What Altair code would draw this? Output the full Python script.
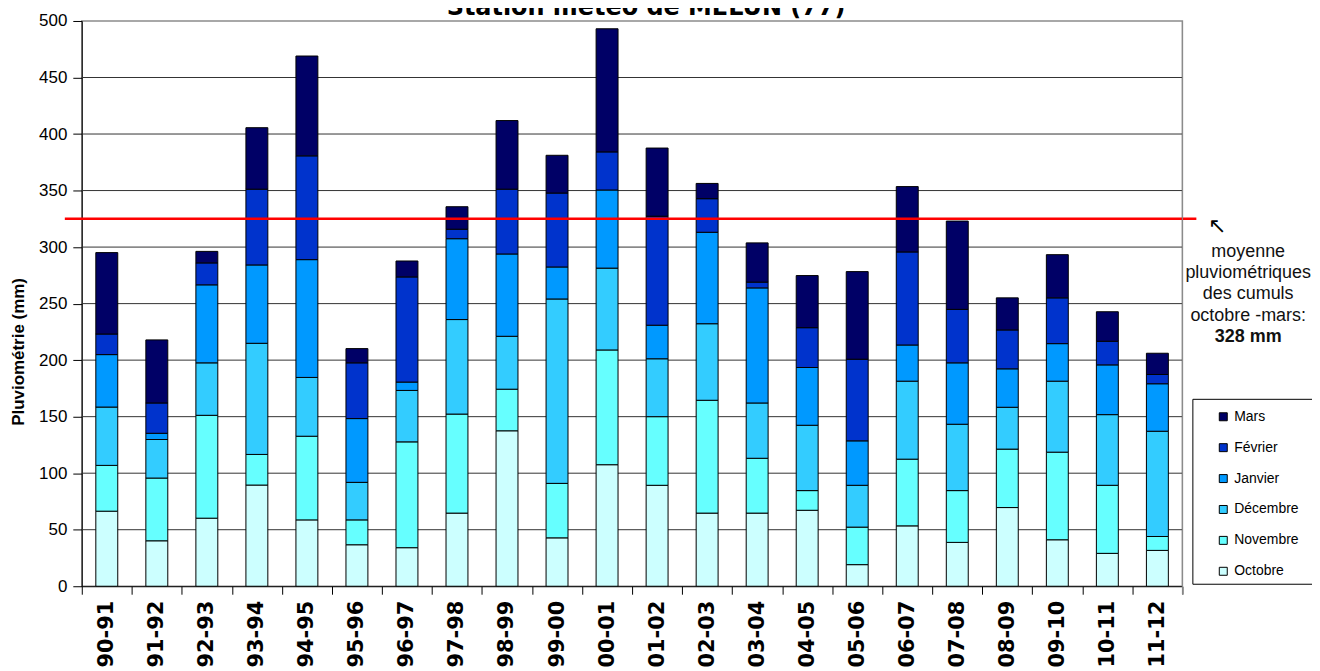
import altair as alt
import pandas as pd

saisons = ["90-91", "91-92", "92-93", "93-94", "94-95", "95-96", "96-97", "97-98",
           "98-99", "99-00", "00-01", "01-02", "02-03", "03-04", "04-05", "05-06",
           "06-07", "07-08", "08-09", "09-10", "10-11", "11-12"]
mois = ["Octobre", "Novembre", "Décembre", "Janvier", "Février", "Mars"]

octobre = [66.4, 40.2, 60.2, 89.5, 58.7, 36.7, 34.1, 64.7, 137.5, 42.8, 107.5,
           89.3, 64.7, 64.7, 67.2, 19.1, 53.4, 38.8, 69.6, 41.1, 29.1, 31.7]
novembre = [40.5, 55.5, 91.0, 27.1, 74.0, 22.0, 93.6, 87.6, 36.8, 48.2, 101.5,
            60.7, 99.8, 48.5, 17.4, 33.2, 59.0, 45.8, 51.7, 77.5, 60.2, 12.3]
decembre = [51.6, 34.1, 46.4, 98.3, 52.0, 33.2, 45.5, 83.6, 46.8, 163.1, 72.4,
            51.2, 67.7, 48.9, 57.8, 37.0, 69.0, 58.7, 37.0, 62.8, 62.5, 93.1]
janvier = [46.4, 5.5, 69.0, 69.3, 104.2, 56.4, 7.4, 71.5, 72.8, 28.3, 69.1,
           29.7, 80.9, 101.8, 51.1, 39.3, 32.0, 54.3, 34.0, 33.2, 44.0, 42.0]
fevrier = [18.2, 26.8, 19.4, 67.0, 91.8, 49.3, 93.0, 8.4, 57.3, 65.4, 33.7,
           96.4, 29.7, 5.1, 35.2, 72.2, 82.3, 47.3, 34.4, 40.5, 20.9, 8.2]
mars = [72.0, 55.8, 10.2, 54.4, 88.3, 12.6, 14.1, 19.9, 60.7, 33.4, 108.9,
        60.3, 13.5, 34.7, 46.1, 77.5, 57.8, 78.1, 28.4, 38.2, 26.1, 18.8]

couleurs = ["#CCFFFF", "#66FFFF", "#33CCFF", "#0099FF", "#0033CC", "#000066"]
ligne_moyenne = [325]
grille = [50, 100, 150, 200, 250, 300, 350, 400, 450]

titre = "Station météo de MELUN (77)"
titre_y = "Pluviométrie (mm)"
note_lignes = ["moyenne", "pluviométriques", "des cumuls", "octobre -mars:"]
note_valeur = "328 mm"

rows = []
for i, (m, vals) in enumerate(zip(mois, [octobre, novembre, decembre, janvier, fevrier, mars])):
    for s, v in zip(saisons, vals):
        rows.append({"saison": s, "mois": m, "ordre": i, "pluie": v})
df = pd.DataFrame(rows)

W, H = 1104, 567
yscale = alt.Scale(domain=[0, 500], nice=False, zero=True)
one = alt.Data(values=[{}])

grid = alt.Chart(pd.DataFrame({"g": grille})).mark_rule(color="#333333", strokeWidth=1).encode(
    y=alt.Y("g:Q", scale=yscale, title=None),
    x=alt.value(0), x2=alt.value(W))

bars = alt.Chart(df).mark_bar(size=22, stroke="black", strokeWidth=1).encode(
    x=alt.X("saison:N", sort=saisons, title=None,
            scale=alt.Scale(paddingInner=0, paddingOuter=0)),
    y=alt.Y("pluie:Q", stack="zero", scale=yscale, title=None),
    color=alt.Color("mois:N",
                    scale=alt.Scale(domain=mois[::-1], range=couleurs[::-1]),
                    legend=alt.Legend(title=None, orient="none", legendX=1138, legendY=390,
                                      symbolType="square", symbolSize=64,
                                      symbolStrokeColor="black", symbolStrokeWidth=1,
                                      labelFont="Liberation Sans", labelFontSize=14,
                                      labelColor="black", rowPadding=17, labelOffset=4,
                                      padding=0)),
    order=alt.Order("ordre:Q", sort="ascending"))

red = alt.Chart(pd.DataFrame({"m": ligne_moyenne})).mark_rule(color="#FF0000", strokeWidth=2.5).encode(
    y=alt.Y("m:Q", scale=yscale, title=None),
    x=alt.value(-17), x2=alt.value(W + 14))

right_frame = alt.Chart(one).mark_rule(color="#8c8c8c", strokeWidth=1).encode(
    x=alt.value(W), y=alt.value(0), y2=alt.value(H + 8))

legend_box = alt.Chart(one).mark_rect(fill="white", stroke="black", strokeWidth=1).encode(
    x=alt.value(1114.5), x2=alt.value(1236), y=alt.value(379.5), y2=alt.value(565))

title_txt = alt.Chart(one).mark_text(text=titre, font="DejaVu Sans", fontWeight="bold",
                                     fontSize=24, align="center", baseline="alphabetic",
                                     color="black").encode(x=alt.value(566), y=alt.value(-6))

ytitle_txt = alt.Chart(one).mark_text(text=titre_y, font="Liberation Sans", fontWeight="bold",
                                      fontSize=17, angle=270, align="center", baseline="middle",
                                      color="black").encode(x=alt.value(-63), y=alt.value(332))

note_txt = alt.Chart(one).mark_text(text=note_lignes, font="Liberation Sans", fontSize=18,
                                    lineHeight=21.3, align="center", baseline="middle",
                                    color="#111111").encode(x=alt.value(1170), y=alt.value(231.7))

note_val = alt.Chart(one).mark_text(text=note_valeur, font="Liberation Sans", fontWeight="bold",
                                    fontSize=18, align="center", baseline="middle",
                                    color="#111111").encode(x=alt.value(1170), y=alt.value(316.9))

arrow = alt.Chart(one).mark_text(text="↖", font="DejaVu Sans", fontSize=22, align="center",
                                 baseline="middle", color="black").encode(
    x=alt.value(1139), y=alt.value(206))

chart = alt.layer(grid, bars, red, right_frame, legend_box, title_txt, ytitle_txt,
                  note_txt, note_val, arrow).properties(
    width=W, height=H,
    autosize=alt.AutoSizeParams(type="none"),
    padding={"left": 74, "top": 12, "right": 130, "bottom": 84},
).configure_view(stroke="#8c8c8c", strokeWidth=1.5).configure_axisY(
    tickCount=10, grid=False, domainColor="black", tickColor="black", tickSize=9,
    labelFont="Liberation Sans", labelFontSize=17, labelColor="black", labelPadding=6,
).configure_axisX(
    labelAngle=270, labelFont="DejaVu Sans", labelFontWeight="bold", labelFontSize=21,
    labelColor="black", domainColor="black", tickColor="black", tickSize=8,
    tickBand="extent", labelPadding=6, grid=False,
)

chart.save("out.html", embed_options={"renderer": "svg", "actions": False})
